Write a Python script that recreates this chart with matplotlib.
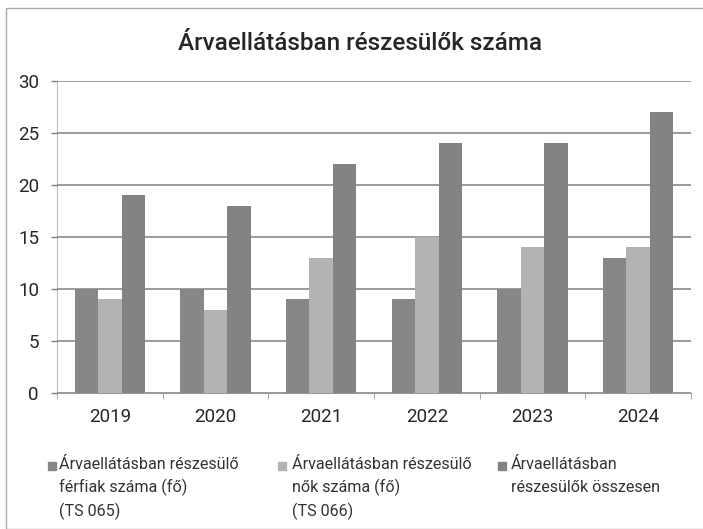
import matplotlib
matplotlib.use("Agg")
import matplotlib.pyplot as plt
from matplotlib.patches import Rectangle
import numpy as np

plt.rcParams['font.family'] = ['Roboto', 'DejaVu Sans']

years = ["2019", "2020", "2021", "2022", "2023", "2024"]
ferfiak = [10, 10, 9, 9, 10, 13]
nok = [9, 8, 13, 15, 14, 14]
osszesen = [19, 18, 22, 24, 24, 27]
series_labels = [
    ["Árvaellátásban részesülő", "férfiak száma (fő)", "(TS 065)"],
    ["Árvaellátásban részesülő", "nők száma (fő)", "(TS 066)"],
    ["Árvaellátásban", "részesülők összesen"],
]
colors = ["#878787", "#b3b3b3", "#838383"]
txt = "#262626"

W, H = 703, 529
fig = plt.figure(figsize=(W / 100, H / 100), dpi=100)
ax = fig.add_axes([57 / W, 1 - 393 / H, (691 - 57) / W, (393 - 81) / H])

x = np.arange(len(years))
bw = 0.222
for i, (vals, c) in enumerate(zip([ferfiak, nok, osszesen], colors)):
    ax.bar(x + (i - 1) * bw, vals, width=bw, color=c, zorder=3)

ax.set_xlim(-0.5, len(years) - 0.5)
ax.set_ylim(0, 30)
ax.set_yticks(range(0, 31, 5))
ax.set_xticks(x)
ax.set_xticklabels(years)
ax.set_xticks(np.arange(-0.5, len(years), 1), minor=True)
ax.tick_params(axis='x', which='major', length=0, pad=11, labelsize=13.5, colors=txt)
ax.tick_params(axis='x', which='minor', length=4, color="#999999", direction='out')
ax.tick_params(axis='y', length=4, width=1.0, color="#808080", pad=9, labelsize=13.5, labelcolor=txt)
ax.grid(axis='y', color="#808080", linewidth=1.1, zorder=0)
for s in ['top', 'right']:
    ax.spines[s].set_visible(False)
ax.spines['left'].set_color("#bdbdbd")
ax.spines['bottom'].set_color("#999999")
ax.spines['left'].set_zorder(1)

fig.text(360 / W, 1 - 43 / H, "Árvaellátásban részesülők száma",
         ha='center', va='center', fontsize=17.5, fontweight='medium', color=txt)

# border
fig.patches.append(Rectangle((6 / W, 0), 1, 1 - 8 / H, transform=fig.transFigure,
                             fill=False, edgecolor="#aaaaaa", linewidth=1.0))

# legend (manual)
sq_x = [48, 278, 498]
tx_x = [59, 292, 511]
baselines = [469, 492.5, 516]
for sx, tx, lines, c in zip(sq_x, tx_x, series_labels, colors):
    fig.patches.append(Rectangle((sx / W, 1 - 470 / H), 8 / W, 8 / H,
                                 transform=fig.transFigure, color=c))
    for line, b in zip(lines, baselines):
        fig.text(tx / W, 1 - b / H, line, ha='left', va='baseline',
                 fontsize=11.6, color="#333333")

fig.savefig("out.png", dpi=100)
